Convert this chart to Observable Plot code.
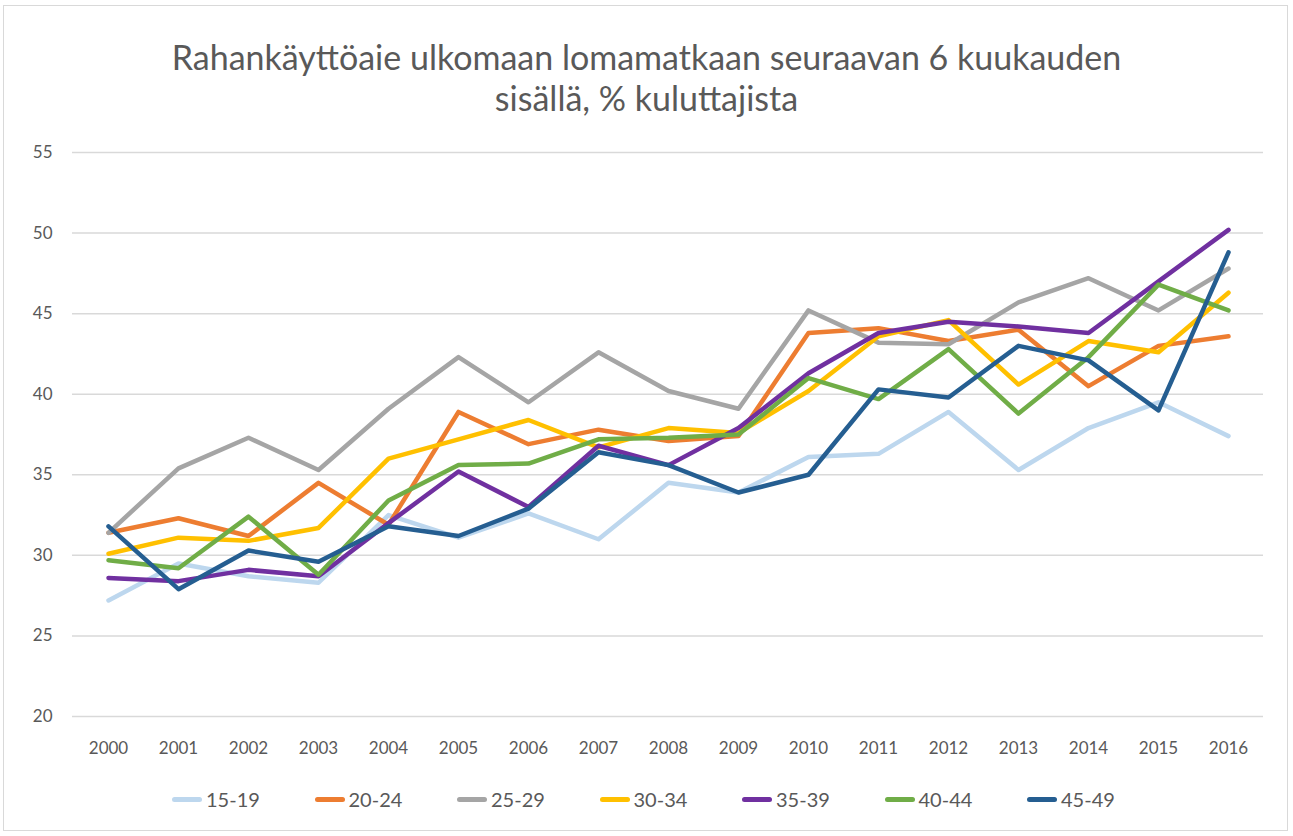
<!DOCTYPE html>
<html>
<head>
<meta charset="utf-8">
<script src="https://cdn.jsdelivr.net/npm/d3@7"></script>
<script src="https://cdn.jsdelivr.net/npm/@observablehq/plot@0.6"></script>
<style>
  html, body { margin: 0; padding: 0; background: #fff; }
  body { width: 1293px; height: 836px; position: relative; font-family: Lato, "Open Sans", sans-serif; }
  #frame { position: absolute; left: 3px; top: 5px; width: 1285px; height: 826px; border: 1px solid #d9d9d9; box-sizing: border-box; }
  #title { position: absolute; left: 0; top: 36px; width: 1293px; text-align: center; font-size: 34px; line-height: 41px; color: #595959; }
  #chart { position: absolute; left: 0; top: 130px; }
  #legend { position: absolute; left: 0; top: 787px; width: 1293px; display: flex; justify-content: flex-start; padding-left: 172px; box-sizing: border-box; }
  .item { display: flex; align-items: center; width: 142.5px; font-size: 20px; color: #595959; }
  .sw { width: 30px; height: 5px; border-radius: 3px; margin-right: 4px; }
</style>
</head>
<body>
<div id="frame"></div>
<div id="title">Rahankäyttöaie ulkomaan lomamatkaan seuraavan 6 kuukauden<br>sisällä, % kuluttajista</div>
<div id="chart"></div>
<div id="legend"></div>
<script>
const years = ["2000","2001","2002","2003","2004","2005","2006","2007","2008","2009","2010","2011","2012","2013","2014","2015","2016"];
const groups = ["15-19","20-24","25-29","30-34","35-39","40-44","45-49"];
const colors = ["#BDD7EE","#ED7D31","#A5A5A5","#FFC000","#7030A0","#70AD47","#255E91"];
const yTicks = [20,25,30,35,40,45,50,55];

const s15_19 = [27.2,29.5,28.7,28.3,32.5,31.1,32.6,31.0,34.5,33.9,36.1,36.3,38.9,35.3,37.9,39.5,37.4];
const s20_24 = [31.4,32.3,31.2,34.5,31.9,38.9,36.9,37.8,37.1,37.4,43.8,44.1,43.3,44.0,40.5,43.0,43.6];
const s25_29 = [31.4,35.4,37.3,35.3,39.1,42.3,39.5,42.6,40.2,39.1,45.2,43.2,43.1,45.7,47.2,45.2,47.8];
const s30_34 = [30.1,31.1,30.9,31.7,36.0,37.2,38.4,36.7,37.9,37.6,40.2,43.6,44.6,40.6,43.3,42.6,46.3];
const s35_39 = [28.6,28.4,29.1,28.7,32.0,35.2,33.0,36.8,35.6,37.9,41.3,43.8,44.5,44.2,43.8,47.0,50.2];
const s40_44 = [29.7,29.2,32.4,28.8,33.4,35.6,35.7,37.2,37.3,37.5,41.0,39.7,42.8,38.8,42.3,46.8,45.2];
const s45_49 = [31.8,27.9,30.3,29.6,31.8,31.2,32.9,36.4,35.6,33.9,35.0,40.3,39.8,43.0,42.1,39.0,48.8];

const series = [s15_19, s20_24, s25_29, s30_34, s35_39, s40_44, s45_49];
const rows = [];
series.forEach((vals, gi) => vals.forEach((v, i) => rows.push({year: years[i], value: v, group: groups[gi]})));

const chart = Plot.plot({
  width: 1293,
  height: 640,
  marginLeft: 72,
  marginRight: 30,
  marginTop: 22,
  marginBottom: 54,
  style: {fontFamily: "Lato, 'Open Sans', sans-serif", fontSize: "17px", color: "#595959", background: "transparent"},
  x: {type: "point", domain: years, padding: 0.5, label: null},
  y: {domain: [20, 55], label: null},
  color: {domain: groups, range: colors},
  marks: [
    Plot.gridY(yTicks, {stroke: "#d9d9d9", strokeOpacity: 1, strokeWidth: 1.5}),
    Plot.axisY(yTicks, {tickSize: 0, tickPadding: 20, label: null, fill: "#595959"}),
    Plot.axisX({tickSize: 0, tickPadding: 25, label: null, fill: "#595959"}),
    Plot.line(rows, {x: "year", y: "value", z: "group", stroke: "group", strokeWidth: 4.5, strokeLinecap: "round", strokeLinejoin: "round"})
  ]
});
document.getElementById("chart").appendChild(chart);

const legend = document.getElementById("legend");
groups.forEach((g, i) => {
  const it = document.createElement("div");
  it.className = "item";
  const sw = document.createElement("span");
  sw.className = "sw";
  sw.style.background = colors[i];
  const lb = document.createElement("span");
  lb.textContent = g;
  it.appendChild(sw); it.appendChild(lb);
  legend.appendChild(it);
});
</script>
</body>
</html>
